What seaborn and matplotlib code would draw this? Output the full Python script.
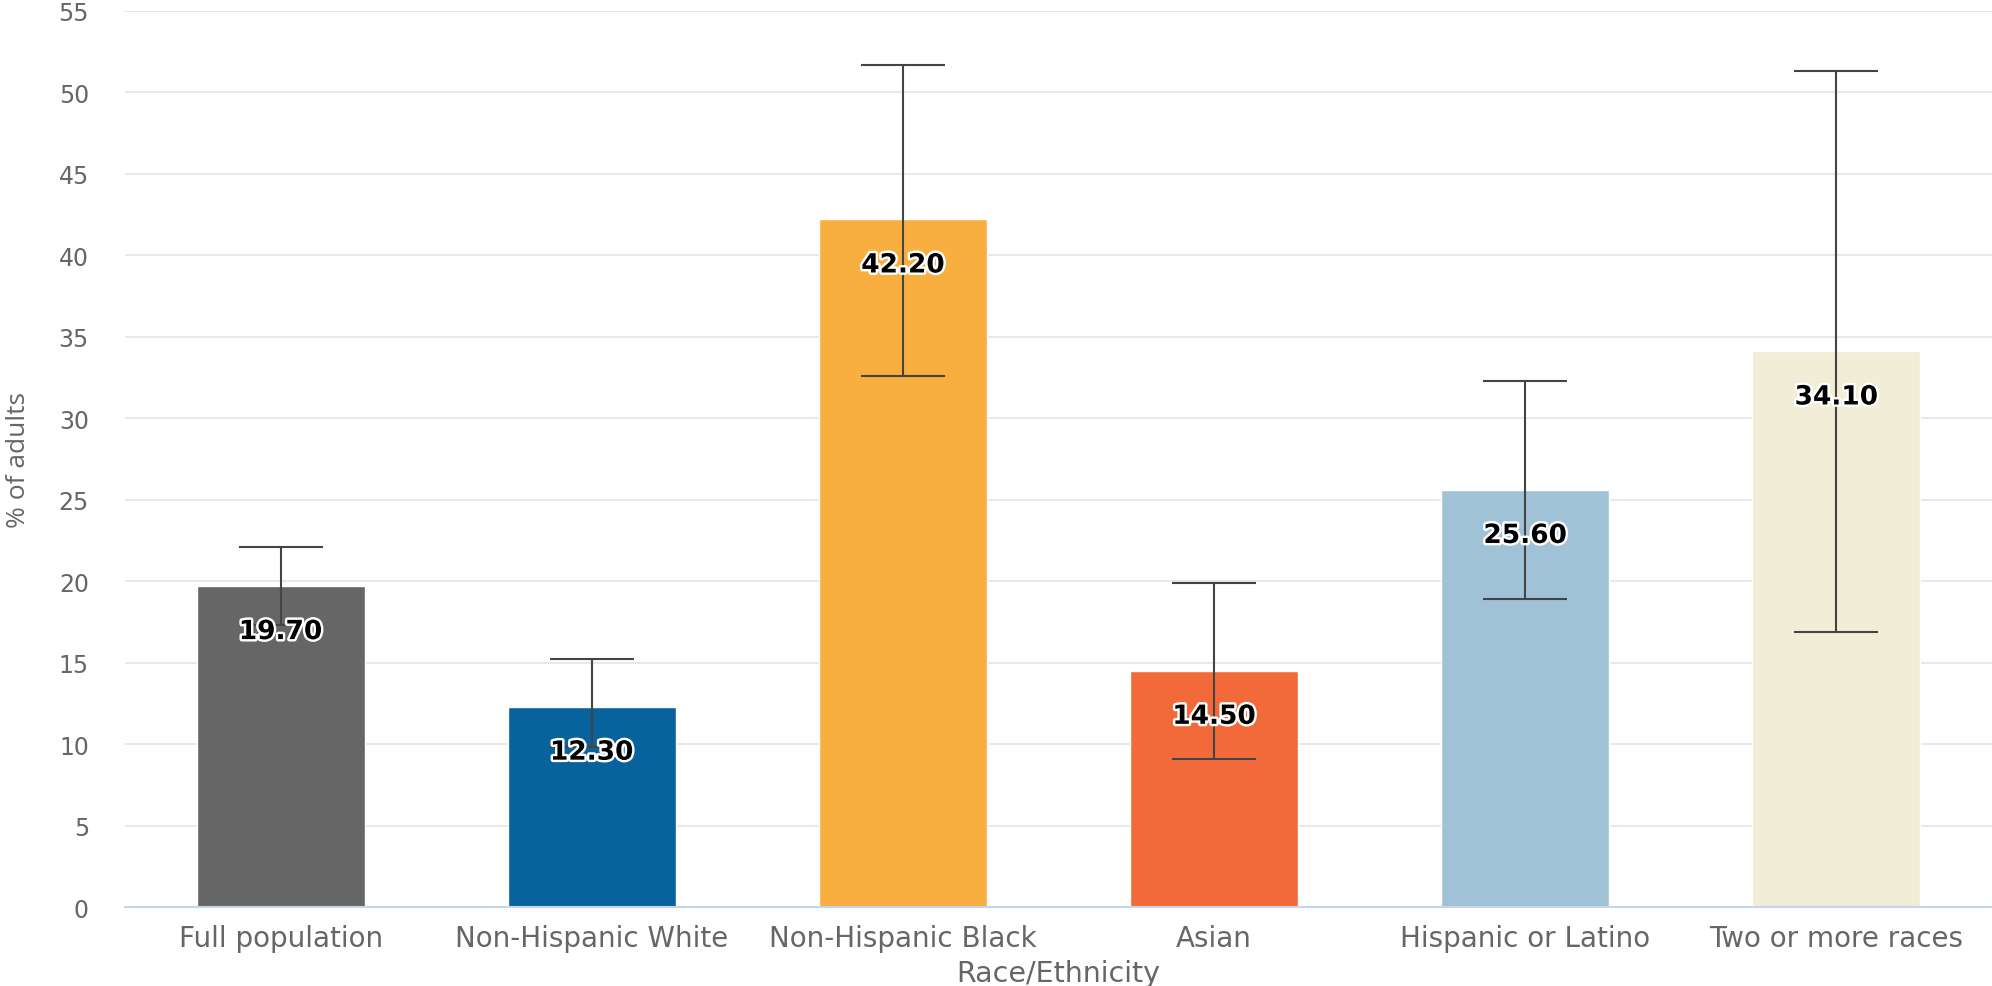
import matplotlib
matplotlib.use("Agg")
import matplotlib.pyplot as plt
import matplotlib.patheffects as pe
import seaborn as sns
import pandas as pd
import numpy as np

categories = ["Full population", "Non-Hispanic White", "Non-Hispanic Black",
              "Asian", "Hispanic or Latino", "Two or more races"]
values = [19.70, 12.30, 42.20, 14.50, 25.60, 34.10]
ci_lower = [17.3, 9.8, 32.6, 9.1, 18.9, 16.9]
ci_upper = [22.1, 15.2, 51.7, 19.9, 32.3, 51.3]
colors = ["#666666", "#08639c", "#f9ae40", "#f26a3a", "#9fc2d6", "#f1edd6"]
y_ticks = list(range(0, 56, 5))

sns.set_theme(style="white")
plt.rcParams['font.family'] = ['DejaVu Sans']

df = pd.DataFrame({"cat": categories, "val": values})

fig = plt.figure(figsize=(19.92, 9.87), dpi=100)
ax = fig.add_axes([0.0628, 0.080, 0.9372, 0.908])

sns.barplot(data=df, x="cat", y="val", hue="cat", palette=colors,
            legend=False, width=0.54, ax=ax, saturation=1)

x = np.arange(len(categories))
v = np.array(values)
yerr = np.vstack([v - np.array(ci_lower), np.array(ci_upper) - v])
ax.errorbar(x, v, yerr=yerr, fmt="none", ecolor="#444444", elinewidth=1.5,
            capsize=30.5, capthick=1.5, zorder=5)

for xi, val in zip(x, values):
    ax.annotate(f"{val:.2f}", xy=(xi, val), xytext=(0, -31), textcoords="offset points",
                ha="center", va="center_baseline", fontsize=19, fontweight="bold", color="black",
                zorder=6,
                path_effects=[pe.withStroke(linewidth=3.5, foreground="white")])

ax.set_ylim(0, 55)
ax.set_xlim(-0.5, 5.5)
ax.set_yticks(y_ticks)
ax.yaxis.grid(True, color="#e4e4e4", linewidth=1.2)
ax.set_axisbelow(True)
for s in ["top", "right", "left"]:
    ax.spines[s].set_visible(False)
ax.spines["bottom"].set_color("#c8d4ea")
ax.spines["bottom"].set_linewidth(1.5)
ax.tick_params(axis="both", length=0)
ax.tick_params(axis="y", labelsize=17, labelcolor="#666666", pad=26)
ax.tick_params(axis="x", labelsize=20, labelcolor="#666666", pad=12)

ax.set_xlabel("Race/Ethnicity", fontsize=20.5, color="#666666", labelpad=5)
ax.set_ylabel("% of adults", fontsize=19, color="#666666", family="Open Sans")
ax.yaxis.set_label_coords(-0.0505, 0.5)

fig.savefig("out.png", dpi=100)
